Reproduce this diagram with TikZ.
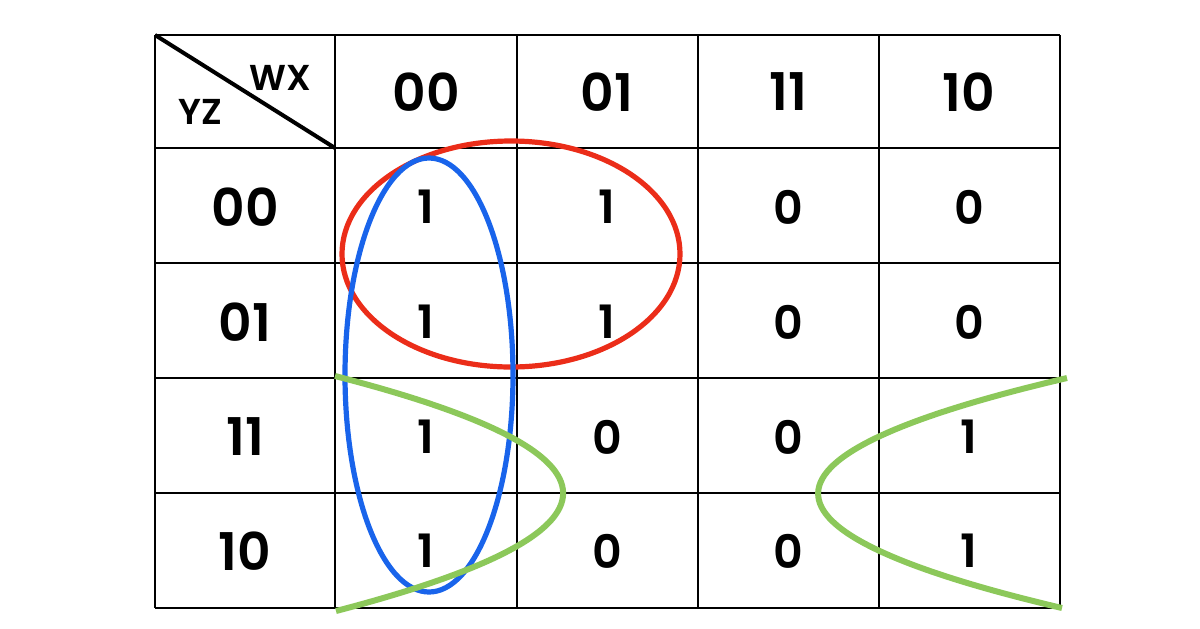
\documentclass[tikz,border=0pt]{standalone}
\usepackage{fontspec}
\setmainfont{Poppins}[BoldFont={Poppins SemiBold}]
\definecolor{loopred}{RGB}{235,45,25}
\definecolor{loopblue}{RGB}{25,100,235}
\definecolor{loopgreen}{RGB}{140,200,90}

\begin{document}
\begin{tikzpicture}[x=0.5pt, y=-0.5pt,
  cell/.style={font=\fontsize{23}{23}\selectfont\bfseries},
  head/.style={font=\fontsize{26}{26}\selectfont\bfseries},
  var/.style={font=\fontsize{18}{18}\selectfont\bfseries},
  loop/.style={line width=2.6pt}]
  \useasboundingbox (0,0) rectangle (1200,628);

  % grid
  \foreach \x in {155,335,517,698,879,1060}
    \draw[line width=1pt] (\x,35) -- (\x,608);
  \foreach \y in {35,148,263,378,493,608}
    \draw[line width=1pt] (155,\y) -- (1060,\y);

  \coordinate (TL) at (155,35);
  \coordinate (BR) at (335,148);
  \draw[line width=2pt] (TL) -- (BR);
  \node[var] (WX) at (280,78) {WX};
  \node[var] (YZ) at (200,112) {YZ};

  % column heads
  \foreach \x/\t/\n in {426/00/1, 607/01/2, 788/11/3, 969/10/4}
    \node[head] (C\n) at (\x,92) {\t};

  % row heads and cells
  \foreach \y/\t/\a/\b/\c/\d/\n in {207/00/1/1/0/0/1, 322/01/1/1/0/0/2,
                                   437/11/1/0/0/1/3, 551/10/1/0/0/1/4}
  {
    \node[head] (R\n) at (245,\y) {\t};
    \node[cell] (V\n-1) at (426,\y) {\a};
    \node[cell] (V\n-2) at (607,\y) {\b};
    \node[cell] (V\n-3) at (788,\y) {\c};
    \node[cell] (V\n-4) at (969,\y) {\d};
  }

  % groups
  \draw[loop, loopred] (511,254) ellipse [x radius=169, y radius=113];
  \draw[loop, loopblue] (429,375) ellipse [x radius=84, y radius=217];
  \draw[loop, loopgreen, line width=3pt] (335,376) .. controls (639,454) and (639,532) .. (336,611);
  \draw[loop, loopgreen, line width=3pt] (1067,378) .. controls (737,455) and (735,531) .. (1062,608);
\end{tikzpicture}
\end{document}
